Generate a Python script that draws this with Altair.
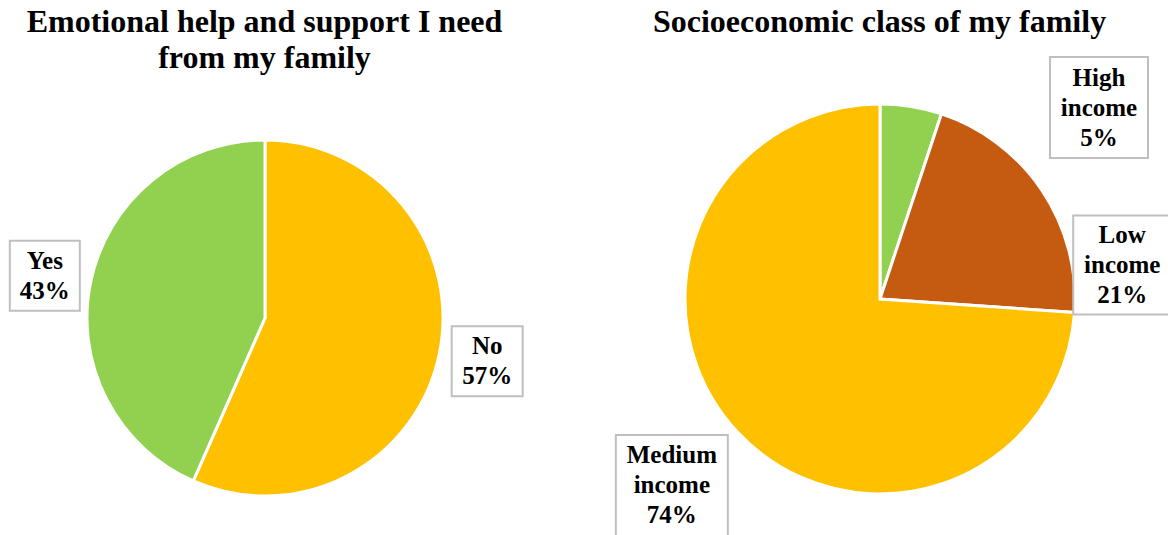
import math
import altair as alt
import pandas as pd

# ---- data ----
left_categories = ["No", "Yes"]
left_values = [56.6, 43.4]
left_colors = ["#FFC000", "#92D050"]

right_categories = ["High income", "Low income", "Medium income"]
right_values = [5.1, 21, 73.9]
right_colors = ["#92D050", "#C55A11", "#FFC000"]

left_title = ["Emotional help and support I need", "from my family"]
right_title = ["Socioeconomic class of my family"]

# ---- layout ----
W, H = 1168, 535
FONT = "'Liberation Serif', 'Times New Roman', 'DejaVu Serif', serif"
LINE_H = 30
pies = {
    "left": dict(cx=265, cy=318, r=178, lr=225),
    "right": dict(cx=880, cy=299, r=195, lr=282),
}
label_adjust = {  # dx, dy, box width, box height
    "No": (2, -3, 71, 70),
    "Yes": (0, 4, 70, 70),
    "High income": (174, 87, 98, 101),
    "Low income": (8, 123, 98, 99),
    "Medium income": (-2, -6, 112, 101),
}


def pie_frame(cats, vals, cols, key):
    p = pies[key]
    total = sum(vals)
    rows = []
    cum = 0
    for i, (c, v, col) in enumerate(zip(cats, vals, cols)):
        mid = (cum + v / 2) / total * 2 * math.pi
        cum += v
        dx, dy, bw, bh = label_adjust[c]
        lx = p["cx"] + p["lr"] * math.sin(mid) + dx
        ly = p["cy"] - p["lr"] * math.cos(mid) + dy
        lines = c.split(" ") + [f"{int(v / total * 100 + 0.5)}%"]
        label = "\n".join(lines)
        ty = ly - (len(lines) - 1) * LINE_H / 2
        rows.append(dict(cat=c, value=v, color=col, idx=i, label=label,
                         lx=lx, ly=ly, ty=ty, x1=lx - bw / 2, x2=lx + bw / 2,
                         y1=ly - bh / 2, y2=ly + bh / 2))
    return pd.DataFrame(rows)


left_df = pie_frame(left_categories, left_values, left_colors, "left")
right_df = pie_frame(right_categories, right_values, right_colors, "right")

xs = alt.Scale(domain=[0, W], range=[0, W])
ys = alt.Scale(domain=[0, H], range=[0, H])


def pie_layers(df, key):
    p = pies[key]
    arc = alt.Chart(df).mark_arc(radius=p["r"], stroke="white", strokeWidth=3).encode(
        theta=alt.Theta("value:Q", stack=True),
        order=alt.Order("idx:Q"),
        color=alt.Color("color:N", scale=None),
        x=alt.value(p["cx"]),
        y=alt.value(p["cy"]),
    )
    box = alt.Chart(df).mark_rect(fill="white", stroke="#BFBFBF", strokeWidth=2).encode(
        x=alt.X("x1:Q", scale=xs, axis=None),
        x2="x2:Q",
        y=alt.Y("y1:Q", scale=ys, axis=None),
        y2="y2:Q",
    )
    txt = alt.Chart(df).mark_text(
        font=FONT, fontSize=25, fontWeight="bold", lineHeight=LINE_H,
        align="center", baseline="middle", color="black", lineBreak="\n",
    ).encode(
        x=alt.X("lx:Q", scale=xs, axis=None),
        y=alt.Y("ty:Q", scale=ys, axis=None),
        text="label:N",
    )
    return [arc, box, txt]


def title_layer(lines, cx):
    return alt.Chart(pd.DataFrame({"t": ["\n".join(lines)]})).mark_text(
        font=FONT, fontSize=32, fontWeight="bold", lineHeight=36,
        align="center", baseline="alphabetic", color="black", lineBreak="\n",
    ).encode(x=alt.value(cx), y=alt.value(32), text="t:N")


chart = alt.layer(
    *pie_layers(left_df, "left"),
    *pie_layers(right_df, "right"),
    title_layer(left_title, 264.5),
    title_layer(right_title, 879.5),
).properties(
    width=W, height=H, padding=0, autosize="none"
).configure_view(stroke=None)

chart.save("out.html", embed_options={"renderer": "svg", "actions": False})
